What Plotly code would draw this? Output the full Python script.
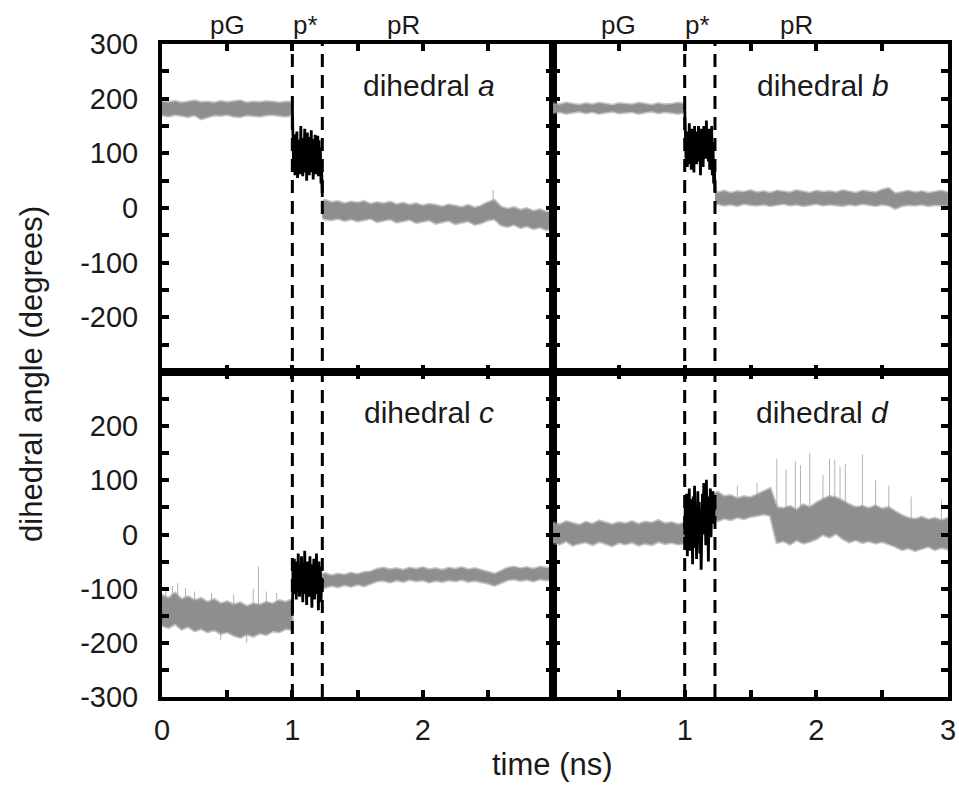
import plotly.graph_objects as go

# ---------------- data ----------------
T_PG = [0.00, 0.05, 0.10, 0.15, 0.20, 0.25, 0.30, 0.35, 0.40, 0.45, 0.50,
        0.55, 0.60, 0.65, 0.70, 0.75, 0.80, 0.85, 0.90, 0.95, 1.00]
T_PS = [1.000, 1.005, 1.010, 1.015, 1.020, 1.025, 1.030, 1.035, 1.040, 1.045,
        1.050, 1.055, 1.060, 1.065, 1.070, 1.075, 1.080, 1.085, 1.090, 1.095,
        1.100, 1.105, 1.110, 1.115, 1.120, 1.125, 1.130, 1.135, 1.140, 1.145,
        1.150, 1.155, 1.160, 1.165, 1.170, 1.175, 1.180, 1.185, 1.190, 1.195,
        1.200, 1.205, 1.210, 1.215, 1.220, 1.225, 1.230]
T_PR = [1.23, 1.25, 1.30, 1.35, 1.40, 1.45, 1.50, 1.55, 1.60, 1.65, 1.70,
        1.75, 1.80, 1.85, 1.90, 1.95, 2.00, 2.05, 2.10, 2.15, 2.20, 2.25,
        2.30, 2.35, 2.40, 2.45, 2.50, 2.55, 2.60, 2.65, 2.70, 2.75, 2.80,
        2.85, 2.90, 2.95, 3.00]

# dihedral a
A_PG_HI = [194, 193, 195, 192, 194, 196, 193, 194, 192, 195, 193, 194, 196, 192, 194, 193, 195, 194, 192, 194, 193]
A_PG_LO = [170, 168, 171, 169, 167, 170, 163, 166, 170, 169, 171, 168, 167, 170, 169, 168, 170, 171, 169, 168, 170]
A_PS = [182, 120, 70, 135, 60, 118, 75, 140, 55, 125, 80, 110, 62, 150, 70, 128,
        58, 112, 85, 145, 65, 120, 50, 138, 72, 115, 60, 130, 78, 142, 66, 108,
        52, 126, 80, 134, 62, 118, 70, 132, 58, 124, 76, 110, 45, 70, 20]
A_PR_HI = [12, 14, 10, 12, 8, 11, 9, 12, 7, 10, 8, 11, 6, 9, 5, 8, 4, 7, 5, 2,
           6, 3, 1, 5, 0, 4, 10, 14, 2, -2, 1, -4, -1, -6, -3, -8, -6]
A_PR_LO = [-18, -20, -22, -19, -23, -20, -24, -21, -19, -25, -22, -20, -26, -23,
           -21, -27, -24, -22, -28, -25, -23, -29, -26, -24, -30, -27, -22, -20,
           -31, -34, -30, -36, -33, -38, -35, -40, -37]
A_SPK_T = [2.54]
A_SPK_BASE = [0]
A_SPK_TOP = [33]

# dihedral b
B_PG_HI = [191, 189, 192, 190, 188, 191, 189, 192, 190, 188, 191, 190, 189, 192, 190, 188, 191, 189, 190, 192, 190]
B_PG_LO = [174, 176, 173, 175, 177, 174, 176, 173, 175, 177, 174, 175, 176, 173, 175, 177, 174, 176, 175, 173, 175]
B_PS = [185, 150, 90, 140, 75, 130, 95, 155, 80, 120, 70, 145, 100, 135, 65, 150,
        90, 125, 80, 140, 105, 150, 85, 130, 60, 145, 95, 120, 75, 150, 110, 140,
        90, 160, 100, 130, 85, 145, 70, 135, 95, 150, 60, 120, 45, 80, 30]
B_PR_HI = [30, 28, 31, 27, 30, 29, 32, 28, 30, 27, 31, 29, 28, 32, 30, 27, 31, 29,
           30, 28, 32, 29, 27, 31, 30, 28, 33, 36, 26, 29, 31, 28, 30, 27, 29, 31, 28]
B_PR_LO = [6, 8, 5, 7, 4, 8, 6, 5, 7, 4, 6, 8, 5, 7, 4, 6, 8, 5, 7, 6,
           4, 7, 5, 8, 6, 4, 7, 5, -1, 4, 6, 5, 7, 4, 6, 5, 4]

# dihedral c
C_PG_HI = [-112, -118, -108, -120, -115, -122, -118, -125, -120, -128, -124,
           -130, -126, -133, -128, -130, -125, -128, -122, -125, -120]
C_PG_LO = [-168, -172, -165, -175, -170, -178, -174, -180, -176, -183, -180,
           -186, -190, -184, -188, -182, -185, -178, -180, -174, -176]
C_PS = [-150, -60, -110, -45, -95, -70, -120, -50, -100, -35, -90, -115, -60,
        -105, -40, -85, -125, -55, -95, -30, -110, -70, -130, -50, -90, -60,
        -115, -40, -100, -75, -135, -55, -95, -45, -120, -65, -100, -35, -110,
        -70, -140, -50, -105, -60, -125, -80, -90]
C_PR_HI = [-74, -72, -76, -73, -75, -71, -74, -70, -69, -64, -62, -65, -63, -66,
           -62, -64, -61, -65, -63, -66, -62, -64, -61, -65, -63, -66, -70, -73,
           -68, -62, -60, -63, -61, -64, -60, -62, -61]
C_PR_LO = [-95, -98, -94, -97, -93, -96, -92, -95, -91, -86, -85, -88, -84, -87,
           -83, -86, -84, -88, -85, -87, -84, -86, -83, -87, -85, -88, -90, -94,
           -89, -84, -82, -85, -83, -86, -82, -84, -83]
C_SPK_T = [0.03, 0.08, 0.12, 0.18, 0.25, 0.38, 0.45, 0.55, 0.65, 0.70, 0.74, 0.80, 0.88]
C_SPK_BASE = [-140, -140, -145, -145, -150, -150, -155, -155, -158, -155, -155, -150, -150]
C_SPK_TOP = [-100, -95, -90, -98, -105, -108, -195, -110, -200, -100, -59, -105, -108]

# dihedral d
D_PG_HI = [22, 18, 24, 20, 17, 23, 19, 25, 21, 18, 22, 20, 24, 19, 23, 21, 26, 20, 22, 18, 21]
D_PG_LO = [-15, -18, -12, -20, -16, -14, -19, -13, -17, -21, -15, -18, -14, -20, -16, -19, -13, -17, -15, -18, -16]
D_PS = [0, 60, -20, 75, -40, 50, 10, 85, -30, 65, -10, 40, -55, 70, 5, 90, -25,
        55, -45, 30, 80, -15, 60, -35, 45, -65, 35, 75, 0, 95, 20, 60, -20, 101,
        -10, 50, -50, 70, 15, 85, -5, 60, 25, 80, 20, 70, 45]
D_PR_HI = [75, 78, 70, 72, 66, 70, 68, 74, 80, 85, 50, 48, 52, 45, 55, 50, 58,
           65, 70, 68, 62, 55, 50, 52, 48, 53, 47, 50, 42, 35, 30, 28, 32, 27, 30, 26, 30]
D_PR_LO = [28, 25, 30, 27, 32, 29, 33, 35, 38, 35, -15, -12, -18, -10, -16, -13,
           -8, 0, -5, 2, -8, -14, -10, -15, -12, -16, -13, -18, -22, -28, -25, -30,
           -26, -22, -28, -24, -27]
D_SPK_T = [1.40, 1.55, 1.70, 1.77, 1.84, 1.88, 1.95, 2.05, 2.10, 2.14, 2.18, 2.22,
           2.35, 2.45, 2.55, 2.72, 2.95]
D_SPK_BASE = [50, 50, 20, 20, 20, 20, 20, 30, 30, 30, 30, 30, 20, 20, 20, 5, 5]
D_SPK_TOP = [90, 95, 140, 120, 135, 128, 151, 110, 140, 138, 125, 130, 148, 100, 90, 70, 65]

Y_TICKS = [-300, -250, -200, -150, -100, -50, 0, 50, 100, 150, 200, 250, 300]
Y_TEXT_TOP = ["", "", "-200", "", "-100", "", "0", "", "100", "", "200", "", "300"]
Y_TEXT_BOT = ["-300", "", "-200", "", "-100", "", "0", "", "100", "", "200", "", ""]
X_TICKS = [0, 0.5, 1, 1.5, 2, 2.5, 3]
X_TEXT_L = ["0", "", "1", "", "2", "", ""]
X_TEXT_R = ["", "", "1", "", "2", "", "3"]
PHASES = ["pG", "p*", "pR"]
PHASE_T = [0.5, 1.1, 1.85]
BOUNDS = [1.0, 1.23]
NAMES = ["a", "b", "c", "d"]

# ---------------- figure ----------------
GRAY = "#8e8e8e"
EDGE = "rgba(150,150,150,0.55)"
FONT = "Liberation Sans, Arial, sans-serif"
INK = "#1a1a1a"

panels = [
    (A_PG_HI, A_PG_LO, A_PS, A_PR_HI, A_PR_LO, A_SPK_T, A_SPK_BASE, A_SPK_TOP),
    (B_PG_HI, B_PG_LO, B_PS, B_PR_HI, B_PR_LO, [], [], []),
    (C_PG_HI, C_PG_LO, C_PS, C_PR_HI, C_PR_LO, C_SPK_T, C_SPK_BASE, C_SPK_TOP),
    (D_PG_HI, D_PG_LO, D_PS, D_PR_HI, D_PR_LO, D_SPK_T, D_SPK_BASE, D_SPK_TOP),
]

fig = go.Figure()
for i, (pg_hi, pg_lo, ps, pr_hi, pr_lo, st, sb, stop) in enumerate(panels):
    xa = "x" if i == 0 else f"x{i+1}"
    ya = "y" if i == 0 else f"y{i+1}"
    # spikes
    if st:
        sx, sy = [], []
        for t, b, tp in zip(st, sb, stop):
            sx += [t, t, None]
            sy += [b, tp, None]
        fig.add_trace(go.Scatter(x=sx, y=sy, mode="lines", xaxis=xa, yaxis=ya,
                                 line=dict(color="#b4b4b4", width=1), hoverinfo="skip"))
    # bands
    for T, hi, lo in ((T_PG, pg_hi, pg_lo), (T_PR, pr_hi, pr_lo)):
        fig.add_trace(go.Scatter(x=T + T[::-1], y=hi + lo[::-1], mode="lines",
                                 fill="toself", fillcolor=GRAY, xaxis=xa, yaxis=ya,
                                 line=dict(color=EDGE, width=3), hoverinfo="skip"))
    # p* transient
    fig.add_trace(go.Scatter(x=T_PS, y=ps, mode="lines", xaxis=xa, yaxis=ya,
                             line=dict(color="black", width=2.8), hoverinfo="skip"))

axis_common = dict(showgrid=False, zeroline=False, showline=True, linewidth=4,
                   linecolor="black", mirror="allticks", ticks="inside",
                   ticklen=7, tickwidth=3.5, tickcolor="black",
                   ticklabeloverflow="allow", automargin=False,
                   tickfont=dict(family=FONT, size=29, color=INK))

XD = [[0, 0.4975], [0.4975, 1.0]]
YD = [[0.4977, 1.0], [0.0, 0.4977]]
layout = dict(
    width=959, height=786, showlegend=False,
    margin=dict(l=162, r=11, t=44, b=89, autoexpand=False),
    plot_bgcolor="white", paper_bgcolor="white",
    font=dict(family=FONT, color=INK),
)
for i in range(4):
    r, c = divmod(i, 2)
    xk = "xaxis" if i == 0 else f"xaxis{i+1}"
    yk = "yaxis" if i == 0 else f"yaxis{i+1}"
    ya = "y" if i == 0 else f"y{i+1}"
    xa = "x" if i == 0 else f"x{i+1}"
    layout[xk] = dict(axis_common, domain=XD[c], anchor=ya, range=[0, 3],
                      tickvals=X_TICKS,
                      ticktext=(X_TEXT_L if c == 0 else X_TEXT_R),
                      showticklabels=(r == 1), ticklabelstandoff=4)
    layout[yk] = dict(axis_common, domain=YD[r], anchor=xa, range=[-300, 300],
                      tickvals=Y_TICKS,
                      ticktext=(Y_TEXT_TOP if r == 0 else Y_TEXT_BOT),
                      showticklabels=(c == 0), ticklabelstandoff=14)
fig.update_layout(**layout)

shapes = []
for xa in ("x", "x2"):
    for b in BOUNDS:
        shapes.append(dict(type="line", xref=xa, yref="paper", x0=b, x1=b, y0=0, y1=1,
                           line=dict(color="black", width=3, dash="13px,8px")))
fig.update_layout(shapes=shapes)

ann = []
for i, nm in enumerate(NAMES):
    xa = "x" if i == 0 else f"x{i+1}"
    ya = "y" if i == 0 else f"y{i+1}"
    ann.append(dict(x=2.05, y=225, xref=xa, yref=ya, showarrow=False,
                    text=f"dihedral <i>{nm}</i>", font=dict(size=30, family=FONT, color=INK)))
for xa in ("x", "x2"):
    for p, t in zip(PHASES, PHASE_T):
        ann.append(dict(x=t, y=1, xref=xa, yref="paper", yanchor="bottom", yshift=2,
                        showarrow=False, text=p, font=dict(size=26, family=FONT, color=INK)))
ann.append(dict(x=0.497, y=0, xref="paper", yref="paper", yshift=-87, showarrow=False,
                text="time (ns)", font=dict(size=31, family=FONT, color=INK)))
ann.append(dict(x=-0.19, y=0.495, xref="paper", yref="paper", showarrow=False,
                textangle=-90, text="dihedral angle (degrees)",
                font=dict(size=31, family=FONT, color=INK)))
fig.update_layout(annotations=ann)

fig.write_html("out.html", config={"displayModeBar": False},
               post_script="document.body.style.margin='0px';")
